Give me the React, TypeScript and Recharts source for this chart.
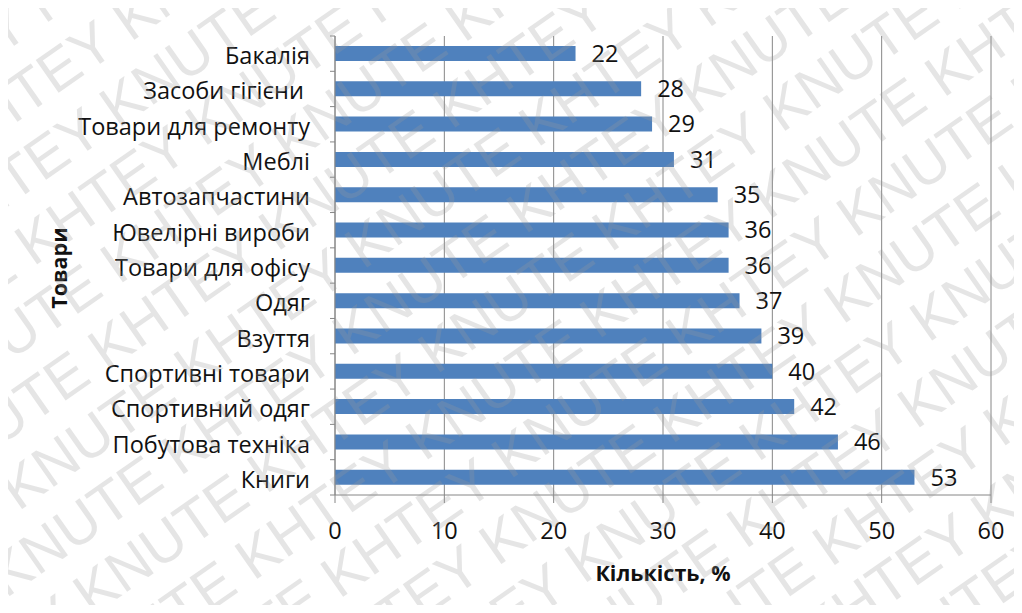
import React from 'react';
import { BarChart, Bar, XAxis, YAxis, CartesianGrid, LabelList } from 'recharts';

// Категорії товарів (зверху вниз) та частка, %
const categories = [
  'Бакалія',
  'Засоби гігієни ',
  'Товари для ремонту',
  'Меблі',
  'Автозапчастини',
  'Ювелірні вироби',
  'Товари для офісу',
  'Одяг',
  'Взуття',
  'Спортивні товари',
  'Спортивний одяг',
  'Побутова техніка',
  'Книги',
];
const values = [22, 28, 29, 31, 35, 36, 36, 37, 39, 40, 42, 46, 53];
const xTicks = [0, 10, 20, 30, 40, 50, 60];

const xTitle = 'Кількість, %';
const yTitle = 'Товари';
const watermarkWords = ['KHTEY', 'KNUTE'];

const data = categories.map((name, i) => ({ name, value: values[i] }));

const W = 1022;
const H = 613;
const PLOT_TOP = 36;
const PLOT_BOTTOM = 495;
const PLOT_LEFT = 335;
const PLOT_RIGHT = 991;
const BAND = (PLOT_BOTTOM - PLOT_TOP) / categories.length;

const FONT = '"Open Sans", "DejaVu Sans", sans-serif';
const AXIS_GRAY = '#868686';
const TEXT = '#111';
const LABEL_SIZE = 23.5;

const CategoryTick = (props: any) => {
  const { x, y, payload, index } = props;
  const last = index === categories.length - 1;
  return (
    <g>
      <line x1={x - 5} x2={x} y1={y - BAND / 2} y2={y - BAND / 2} stroke={AXIS_GRAY} strokeWidth={1} />
      {last && (
        <line x1={x - 5} x2={x} y1={y + BAND / 2} y2={y + BAND / 2} stroke={AXIS_GRAY} strokeWidth={1} />
      )}
      <text
        x={x - 25}
        y={y + 1.5}
        textAnchor="end"
        dominantBaseline="central"
        fontSize={LABEL_SIZE}
        fill={TEXT}
        fontFamily={FONT}
        style={{ whiteSpace: 'pre' }}
      >
        {payload.value}
      </text>
    </g>
  );
};

const ValueTick = (props: any) => {
  const { x, y, payload } = props;
  return (
    <text x={x} y={y + 27} textAnchor="middle" dominantBaseline="central" fontSize={LABEL_SIZE} fill={TEXT} fontFamily={FONT}>
      {payload.value}
    </text>
  );
};

const Watermark = () => {
  const rows = [];
  const phrase = Array.from({ length: 8 }, () => watermarkWords.join(' ')).join(' ');
  for (let i = -12; i <= 16; i++) {
    rows.push(
      <text
        key={i}
        x={-700 + (i % 2) * 60}
        y={i * 64}
        fontSize={58}
        fontFamily='"Liberation Sans", sans-serif'
        fill="#9a9a9a"
      >
        {phrase}
      </text>
    );
  }
  return (
    <g opacity={0.25} transform={`rotate(-35 ${W / 2} ${H / 2})`}>
      {rows}
    </g>
  );
};

export default function App() {
  return (
    <div style={{ position: 'relative', width: W, height: H, margin: -8, background: '#fff', overflow: 'hidden' }}>
      <BarChart
        width={W}
        height={H}
        data={data}
        layout="vertical"
        margin={{ top: PLOT_TOP, right: W - PLOT_RIGHT, bottom: H - PLOT_BOTTOM - 30, left: 0 }}
        barCategoryGap={0}
      >
        <CartesianGrid horizontal={false} vertical stroke={AXIS_GRAY} strokeWidth={1} />
        <XAxis
          type="number"
          domain={[0, 60]}
          ticks={xTicks}
          interval={0}
          height={30}
          axisLine={{ stroke: AXIS_GRAY }}
          tickLine={{ stroke: AXIS_GRAY }}
          tickSize={8}
          tickMargin={0}
          tick={<ValueTick />}
        />
        <YAxis
          type="category"
          dataKey="name"
          width={PLOT_LEFT}
          interval={0}
          axisLine={{ stroke: AXIS_GRAY }}
          tickLine={false}
          tickSize={0}
          tickMargin={0}
          tick={<CategoryTick />}
        />
        <Bar dataKey="value" fill="#4F81BD" barSize={15} isAnimationActive={false}>
          <LabelList
            dataKey="value"
            position="right"
            offset={16}
            fill={TEXT}
            fontSize={LABEL_SIZE}
            fontFamily={FONT}
          />
        </Bar>
      </BarChart>
      <svg width={W} height={H} style={{ position: 'absolute', left: 0, top: 0, pointerEvents: 'none' }}>
        <text
          x={(PLOT_LEFT + PLOT_RIGHT) / 2}
          y={572}
          textAnchor="middle"
          dominantBaseline="central"
          fontSize={21.5}
          fontWeight="bold"
          fill={TEXT}
          fontFamily={FONT}
        >
          {xTitle}
        </text>
        <text
          x={58}
          y={268}
          textAnchor="middle"
          dominantBaseline="central"
          fontSize={21.5}
          fontWeight="bold"
          fill={TEXT}
          fontFamily={FONT}
          transform="rotate(-90 58 268)"
        >
          {yTitle}
        </text>
        <rect x={7} y={7} width={W + 40} height={H + 40} fill="none" stroke="#7f7f7f" strokeWidth={2} />
        <Watermark />
      </svg>
    </div>
  );
}
